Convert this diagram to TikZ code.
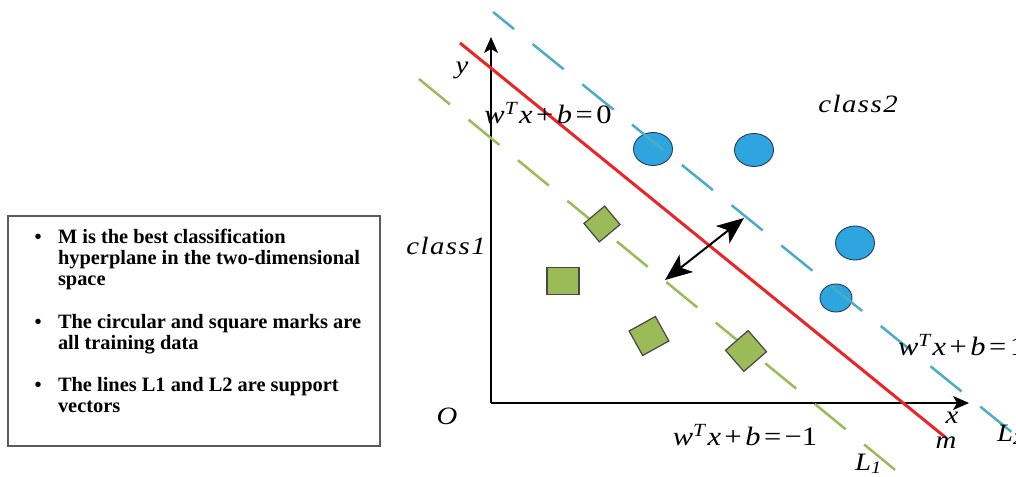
\documentclass[tikz,border=0pt]{standalone}
\usepackage{fontspec}
\setmainfont{Liberation Serif}
\newfontfamily\lblfont{Liberation Serif}[FakeStretch=1.15]
\usetikzlibrary{arrows.meta,shapes.geometric}
\definecolor{redM}{RGB}{236,36,40}
\definecolor{blueL}{RGB}{75,172,198}
\definecolor{greenL}{RGB}{155,187,89}
\definecolor{circfill}{RGB}{46,165,223}
\definecolor{circdraw}{RGB}{35,60,90}
\definecolor{sqdraw}{RGB}{70,70,70}
\definecolor{boxdraw}{RGB}{90,90,90}
\newcommand\itw[1]{{\itshape #1}}
\begin{document}
\begin{tikzpicture}[x=1pt,y=-1pt,
  every node/.style={inner sep=0pt, outer sep=0pt},
  boxtext/.style={font=\fontsize{20.4}{21}\selectfont\bfseries, anchor=base west},
  bul/.style={font=\fontsize{20}{21}\selectfont\bfseries, anchor=base},
  lbl/.style={font=\lblfont\itshape\fontsize{25}{28}\selectfont},
  eqlbl/.style={font=\lblfont\upshape\fontsize{26.5}{28}\selectfont},
  axisline/.style={line width=1.3pt, -{Stealth[length=16pt,width=14pt,inset=4pt]}},
  mline/.style={redM, line width=3pt},
  supL/.style={line width=2.5pt, dash pattern=on 40pt off 24pt},
  dot/.style={ellipse, draw=circdraw, fill=circfill, line width=0.9pt},
  sq/.style={rectangle, draw=sqdraw, fill=greenL, line width=1.2pt},
  gaparrow/.style={line width=2pt, {Stealth[length=27pt,width=22pt,inset=7pt]}-{Stealth[length=27pt,width=22pt,inset=7pt]}}
]
\useasboundingbox (0,0) rectangle (1016,476);

% legend box
\draw[boxdraw, line width=1.3pt] (8,216) rectangle (380,446);
\node[bul] (b1) at (38,243) {•};
\node[boxtext] (t1a) at (58,243) {M is the best classification};
\node[boxtext] (t1b) at (58,264) {hyperplane in the two-dimensional};
\node[boxtext] (t1c) at (58,285) {space};
\node[bul] (b2) at (38,328) {•};
\node[boxtext] (t2a) at (58,328) {The circular and square marks are};
\node[boxtext] (t2b) at (58,349) {all training data};
\node[bul] (b3) at (38,391) {•};
\node[boxtext] (t3a) at (58,391) {The lines L1 and L2 are support};
\node[boxtext] (t3b) at (58,412) {vectors};

% circles (class2)
\node[dot, minimum width=39pt, minimum height=33pt] (c1) at (653,149) {};
\node[dot, minimum width=39pt, minimum height=33pt] (c2) at (754,150) {};
\node[dot, minimum width=39pt, minimum height=34pt] (c3) at (855,243) {};
\node[dot, minimum width=32pt, minimum height=28pt] (c4) at (836,298) {};

% coordinates
\coordinate (O) at (491,403);
\coordinate (ytip) at (491,37);
\coordinate (xtip) at (969,403);
\coordinate (mA) at (460,43);
\coordinate (mB) at (945,437);
\coordinate (bA) at (493,12);
\coordinate (bB) at (1040,455);
\coordinate (gA) at (419,79);
\coordinate (gB) at (905,478);
\coordinate (aA) at (665,280);
\coordinate (aB) at (744,218);

% axes
\draw[axisline] (O) -- (ytip);
\draw[axisline] (O) -- (xtip);

% support lines and hyperplane
\draw[supL, blueL, dash phase=13pt] (bA) -- (bB);
\draw[supL, greenL] (gA) -- (gB);
\draw[mline] (mA) -- (mB);

% squares (class1)
\node[sq, minimum width=32pt, minimum height=27pt] (s1) at (563,281) {};
\node[sq, minimum width=27pt, minimum height=24pt, rotate=40] (s2) at (602,224) {};
\node[sq, minimum width=30pt, minimum height=28pt, rotate=29] (s3) at (649,336) {};
\node[sq, minimum width=30pt, minimum height=28pt, rotate=41] (s4) at (746,351) {};

% margin arrow
\draw[gaparrow] (aA) -- (aB);

% labels
\node[lbl] (ly) at (462,70) {y};
\node[lbl] (lO) at (447,416) {O};
\node[lbl] (lx) at (952,418) {x};
\node[lbl] (lm) at (946,443) {m};
\node[lbl, anchor=base west] (lL1) at (855,470) {L\textsubscript{1}};
\node[lbl, anchor=base west] (lL2) at (997,441) {L\textsubscript{2}};
\node[lbl] (cl2) at (858,104) {\addfontfeature{LetterSpace=6}class2};
\node[lbl] (cl1) at (446,246) {\addfontfeature{LetterSpace=6}class1};
\node[eqlbl] (e0) at (548,113) {\itw{w}\textsuperscript{\itw{T}}\hspace{2pt}\itw{x}\hspace{3.5pt}+\hspace{3.5pt}\itw{b}\hspace{3.5pt}=\hspace{3.5pt}0};
\node[eqlbl, anchor=west] (e1) at (898,345) {\itw{w}\textsuperscript{\itw{T}}\hspace{2pt}\itw{x}\hspace{3.5pt}+\hspace{3.5pt}\itw{b}\hspace{3.5pt}=\hspace{3.5pt}1};
\node[eqlbl] (em1) at (745,435) {\itw{w}\textsuperscript{\itw{T}}\hspace{2pt}\itw{x}\hspace{3.5pt}+\hspace{3.5pt}\itw{b}\hspace{3.5pt}=\hspace{3.5pt}−1};
\end{tikzpicture}
\end{document}
